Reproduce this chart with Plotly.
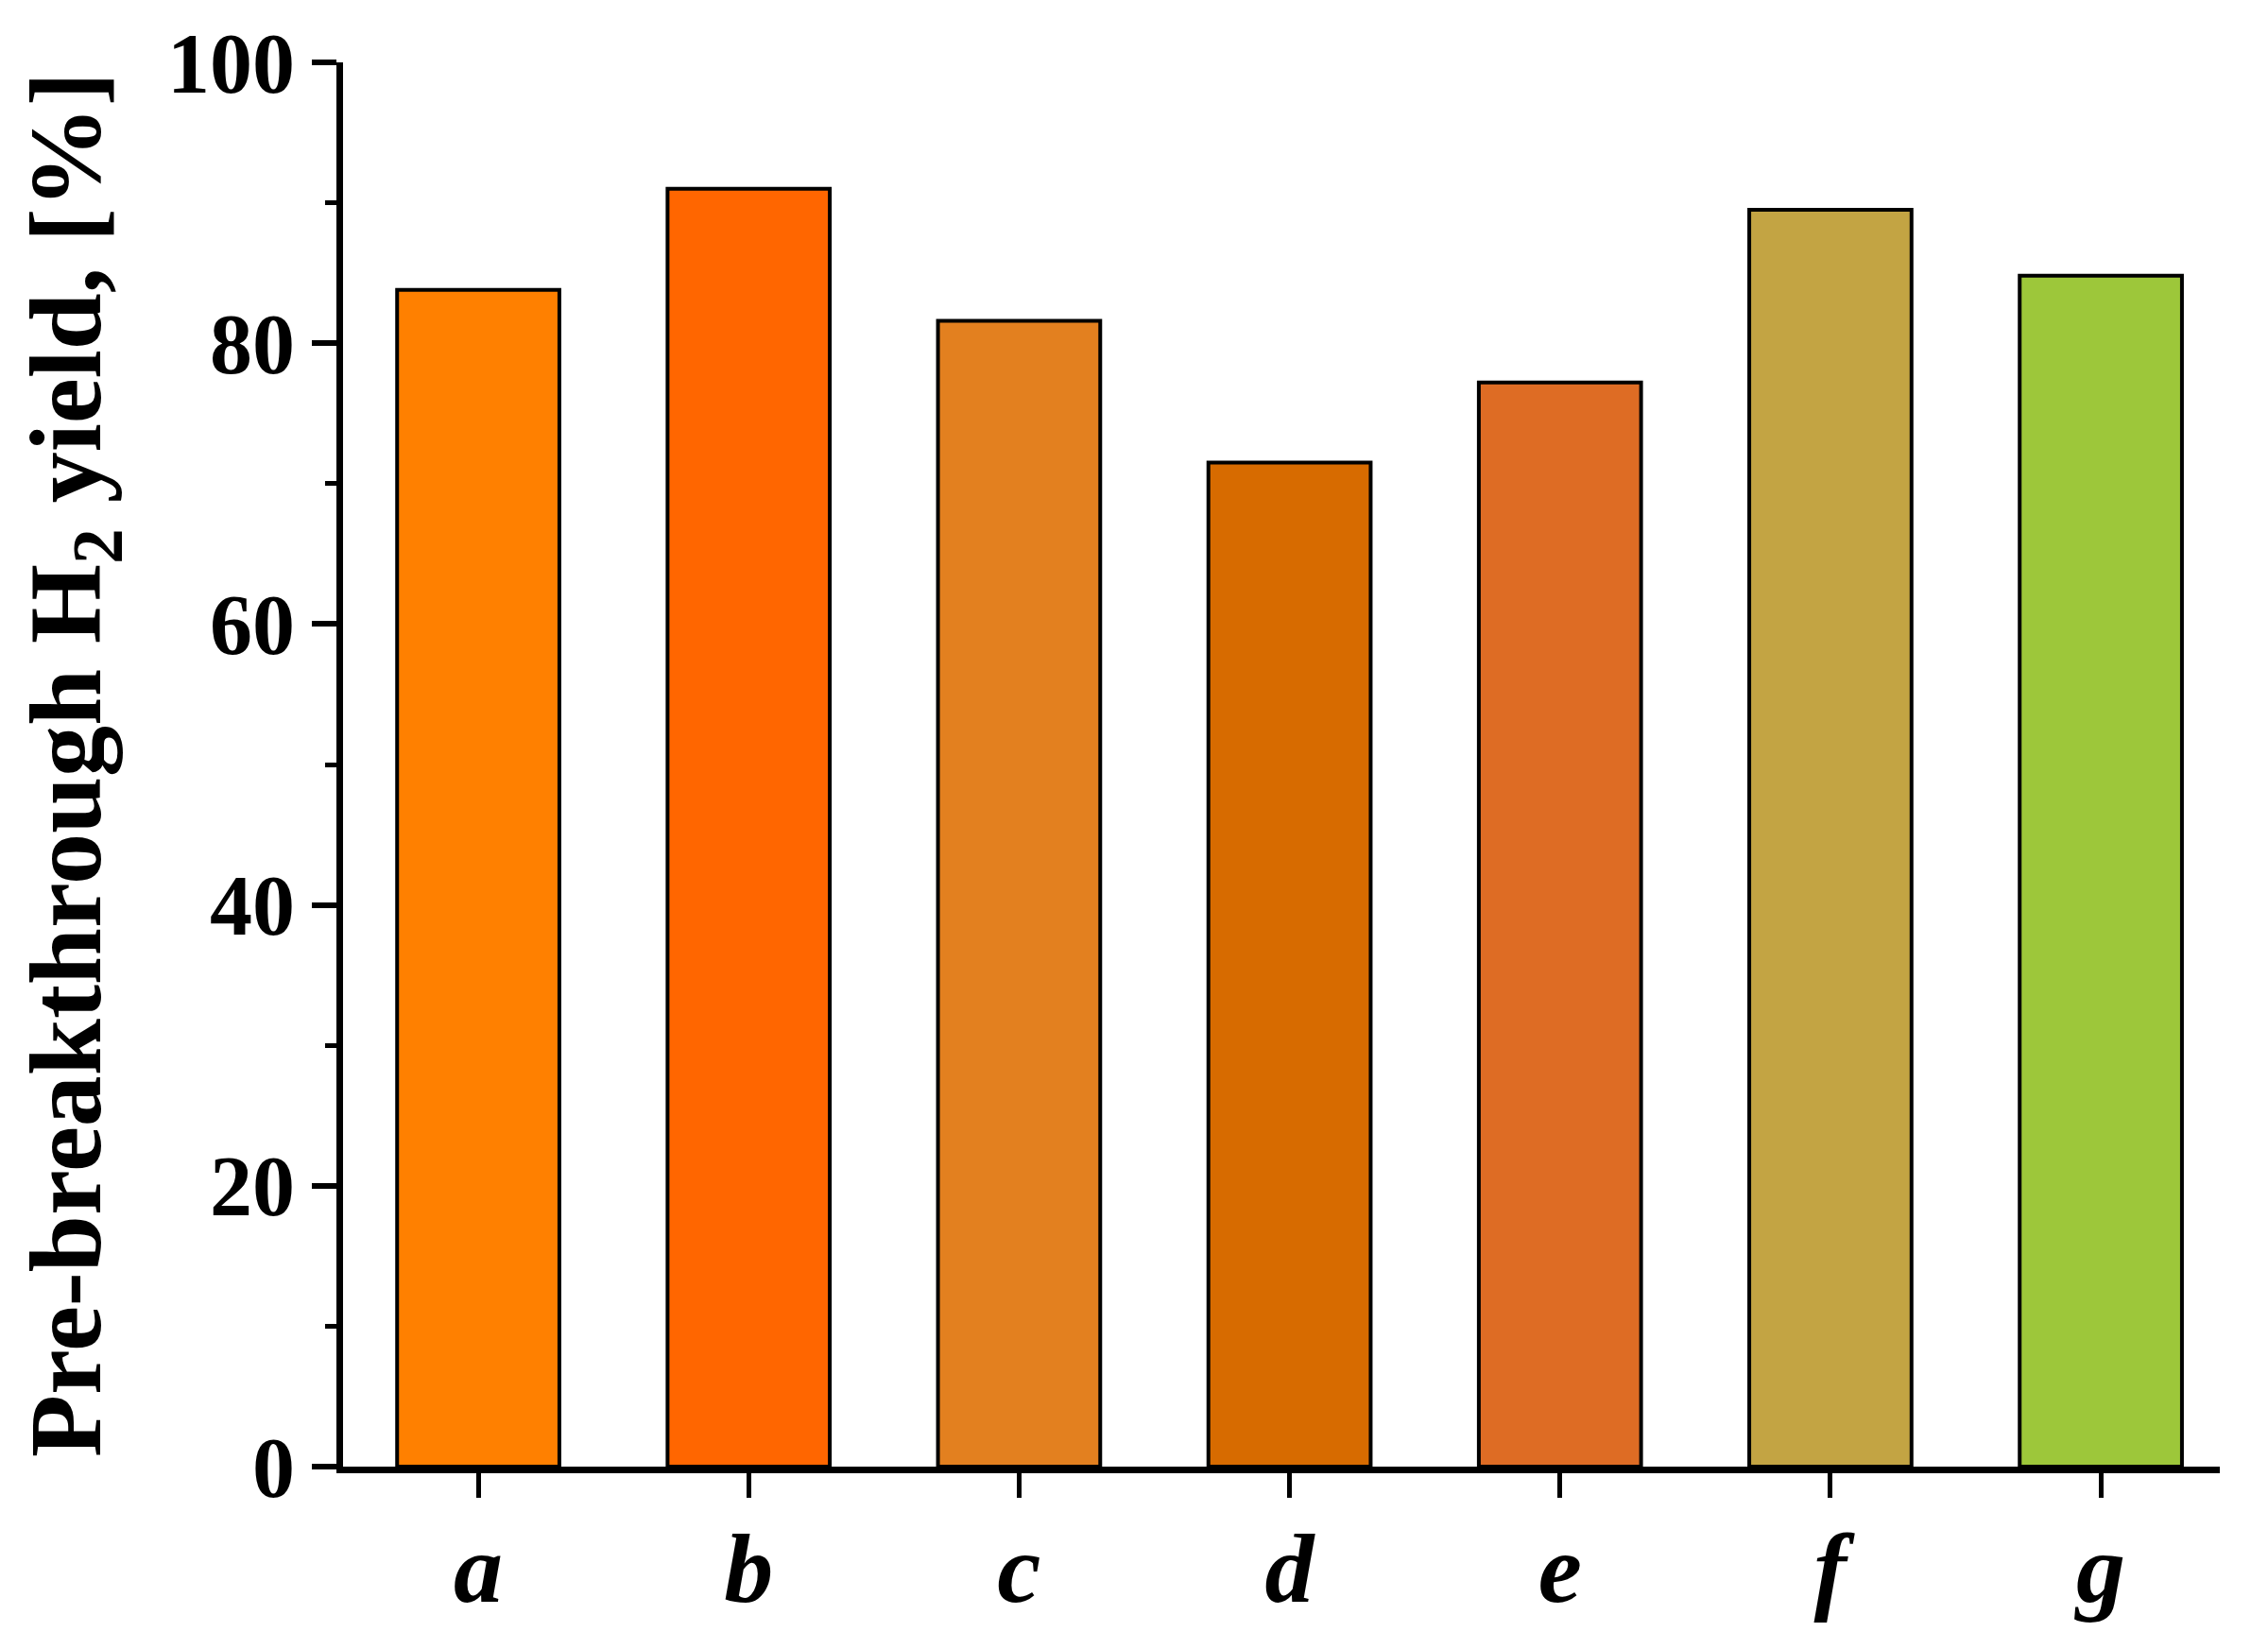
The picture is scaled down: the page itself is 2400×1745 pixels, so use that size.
import plotly.graph_objects as go

categories = ["a", "b", "c", "d", "e", "f", "g"]
yields = [83.8, 91.0, 81.6, 71.5, 77.2, 89.5, 84.8]
colors = ["#FF8000", "#FF6600", "#E3801F", "#D76B00", "#DE6C24", "#C3A443", "#9DC73A"]
y_ticks = [0, 20, 40, 60, 80, 100]

fig = go.Figure()
fig.add_trace(go.Bar(
    x=list(range(len(categories))), y=yields, width=0.6,
    marker=dict(color=colors, line=dict(color="black", width=4)),
))

font_family = "Liberation Serif"
fig.update_layout(
    width=2384, height=1729,
    paper_bgcolor="white", plot_bgcolor="white",
    margin=dict(l=355, r=43, t=58, b=185, autoexpand=False),
    showlegend=False, bargap=0.4,
    xaxis=dict(
        range=[-0.5, 6.44], tickvals=list(range(len(categories))),
        ticktext=[f"<i><b>{c}</b></i>" for c in categories],
        showline=True, linecolor="black", linewidth=7,
        ticks="outside", ticklen=26, tickwidth=5, tickcolor="black",
        ticklabelstandoff=-15, automargin=False,
        tickfont=dict(family=font_family, size=104, color="black"),
        showgrid=False, zeroline=False,
    ),
    yaxis=dict(
        range=[0, 100], tickvals=y_ticks, ticktext=[f"<b>{v}</b>" for v in y_ticks],
        showline=True, linecolor="black", linewidth=7,
        ticks="outside", ticklen=26, tickwidth=6, tickcolor="black",
        minor=dict(dtick=10, ticks="outside", ticklen=12, tickwidth=5, tickcolor="black"),
        ticklabelstandoff=0, automargin=False,
        tickfont=dict(family=font_family, size=90, color="black"),
        showgrid=False, zeroline=False,
    ),
)
fig.add_annotation(
    text="<b>Pre-breakthrough H<sub>2</sub> yield, [%]</b>",
    textangle=-90, xref="paper", yref="paper", x=-0.144, y=0.5,
    xanchor="center", yanchor="middle", showarrow=False,
    font=dict(family=font_family, size=108, color="black"),
)
fig.write_html("out.html")
